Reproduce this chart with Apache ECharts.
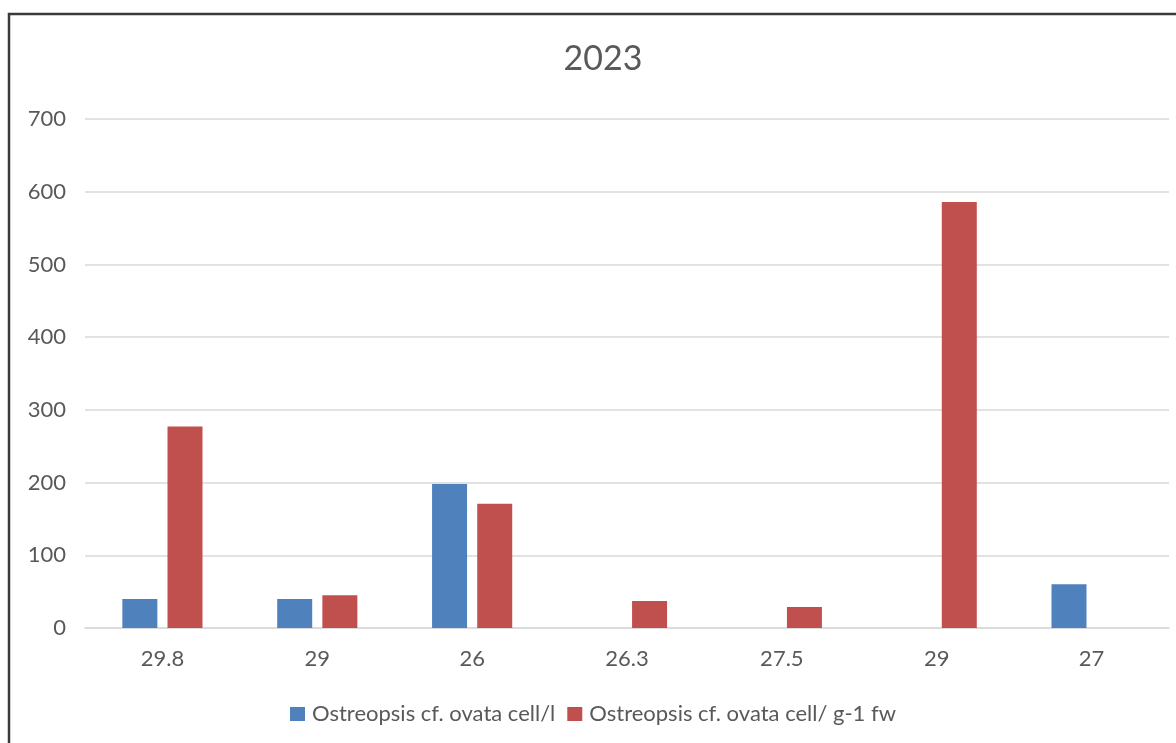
<!DOCTYPE html>
<html>
<head>
<meta charset="utf-8">
<script src="https://cdn.jsdelivr.net/npm/echarts@6/dist/echarts.min.js"></script>
<style>
  html, body { margin: 0; padding: 0; background: #fff; }
  #main { width: 1176px; height: 743px; }
</style>
</head>
<body>
<div id="main"></div>
<script>
// data
var categories = ['29.8', '29', '26', '26.3', '27.5', '29', '27'];
var cellsPerL = [40, 40, 198, 0, 0, 0, 60];
var cellsPerG = [277, 45, 171, 37, 29, 586, 0];
var seriesNames = ['Ostreopsis cf. ovata cell/l', 'Ostreopsis cf. ovata cell/ g-1 fw'];
var yTicks = { min: 0, max: 700, step: 100 };

var font = 'Lato, "Open Sans", sans-serif';
var txt = '#595959';

var myChart = echarts.init(document.getElementById('main'));

option = {
    animation: false,
    textStyle: { fontFamily: font },
    title: {
        text: '2023',
        left: 598,
        textAlign: 'center',
        top: 37,
        textStyle: { fontSize: 34, fontWeight: 'normal', color: txt, fontFamily: font }
    },
    legend: {
        bottom: 13,
        left: 285,
        itemWidth: 15,
        itemHeight: 14,
        itemGap: 12,
        icon: 'rect',
        textStyle: { fontSize: 22, color: txt, fontFamily: font, padding: [0, 0, 0, 2] },
        data: seriesNames
    },
    grid: { left: 85, right: 7, top: 119, bottom: 115 },
    xAxis: {
        type: 'category',
        data: categories,
        axisLine: { lineStyle: { color: '#d9d9d9', width: 1.5 } },
        axisTick: { show: false },
        axisLabel: { color: txt, fontSize: 22, margin: 20, fontFamily: font }
    },
    yAxis: {
        type: 'value',
        min: yTicks.min,
        max: yTicks.max,
        interval: yTicks.step,
        axisLine: { show: false },
        axisTick: { show: false },
        splitLine: { lineStyle: { color: '#d9d9d9', width: 1.5 } },
        axisLabel: { color: txt, fontSize: 22, margin: 19, fontFamily: font }
    },
    graphic: [{
        type: 'polyline',
        silent: true,
        shape: { points: [[9, 743], [9, 14], [1176, 14]] },
        style: { stroke: '#3a3a3a', lineWidth: 2.5, fill: null }
    }],
    series: [
        {
            name: seriesNames[0],
            type: 'bar',
            data: cellsPerL,
            barWidth: 35,
            barGap: '29%',
            itemStyle: { color: '#4F81BD' }
        },
        {
            name: seriesNames[1],
            type: 'bar',
            data: cellsPerG,
            barWidth: 35,
            barGap: '29%',
            itemStyle: { color: '#C0504D' }
        }
    ]
};

myChart.setOption(option);
</script>
</body>
</html>
